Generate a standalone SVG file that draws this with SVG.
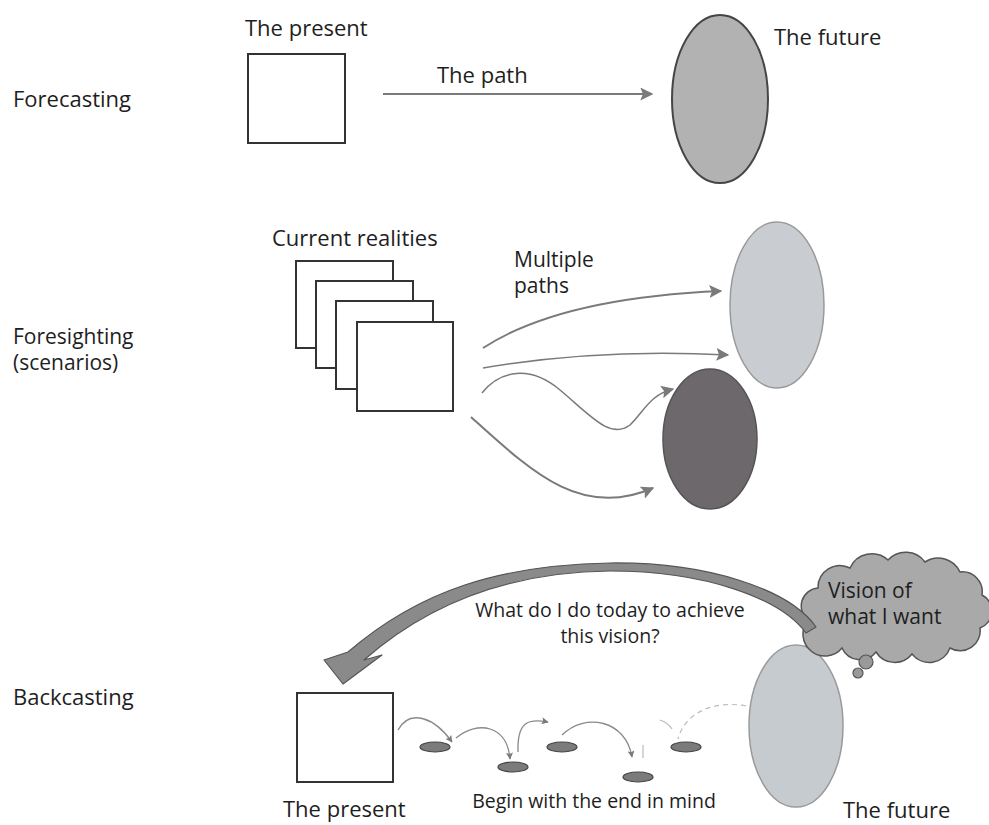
<svg xmlns="http://www.w3.org/2000/svg" width="989" height="825" viewBox="0 0 989 825">
  <defs>
    <style>
      text { font-family: "Open Sans", "Noto Sans", "Liberation Sans", sans-serif; fill: #1e1e1e; }
      .lbl { font-size: 22px; }
      .two { font-size: 21px; }
      .sm { font-size: 19.5px; }
      .cloud { font-size: 21px; }
      .box { fill: #ffffff; stroke: #333333; stroke-width: 2; }
      .conn { fill: none; stroke: #7a7a7a; stroke-width: 2; }
      .thin { fill: none; stroke: #8a8a8a; stroke-width: 1.3; }
      .stone { fill: #7b7b7b; stroke: #454545; stroke-width: 1.2; }
    </style>
    <marker id="ah" viewBox="0 0 10 10" refX="9" refY="5" markerWidth="7" markerHeight="7" markerUnits="userSpaceOnUse" orient="auto">
      <path d="M0,0 L10,5 L0,10 L2,5 Z" fill="#7a7a7a"/>
    </marker>
    <marker id="ahBig" viewBox="0 0 10 10" refX="9" refY="5" markerWidth="13" markerHeight="13" markerUnits="userSpaceOnUse" orient="auto">
      <path d="M0,0 L10,5 L0,10 L2,5 Z" fill="#7a7a7a"/>
    </marker>
  </defs>

  <rect width="989" height="825" fill="#ffffff"/>

  <!-- row labels -->
  <g id="row-labels">
    <text class="lbl" x="13" y="107">Forecasting</text>
    <text class="two" x="13" y="344">Foresighting<tspan x="13" dy="26">(scenarios)</tspan></text>
    <text class="lbl" x="13" y="705">Backcasting</text>
  </g>

  <!-- Forecasting -->
  <g id="fc-present">
    <rect class="box" x="248" y="54" width="97" height="89"/>
    <text class="lbl" x="245" y="36">The present</text>
  </g>
  <g id="fc-future">
    <ellipse cx="720" cy="99" rx="48" ry="84" fill="#b2b2b2" stroke="#454545" stroke-width="2"/>
    <text class="lbl" x="774" y="45">The future</text>
  </g>

  <!-- Foresighting -->
  <g id="fs-realities">
    <rect class="box" x="296" y="261" width="97" height="87"/>
    <rect class="box" x="316" y="281" width="97" height="87"/>
    <rect class="box" x="336" y="301" width="97" height="88"/>
    <rect class="box" x="357" y="322" width="96" height="89"/>
    <text class="lbl" x="272" y="246">Current realities</text>
  </g>
  <g id="fs-future-a">
    <ellipse cx="777" cy="305" rx="47" ry="83" fill="#c9cdd1" stroke="#9a9a9a" stroke-width="1.5"/>
  </g>
  <g id="fs-future-b">
    <ellipse cx="710" cy="439" rx="47" ry="70" fill="#6d686c" stroke="#555555" stroke-width="1.5"/>
  </g>

  <!-- Backcasting -->
  <g id="bc-present">
    <rect class="box" x="297" y="693" width="96" height="89"/>
    <text class="lbl" x="283" y="817">The present</text>
  </g>
  <g id="bc-future">
    <ellipse cx="796" cy="726" rx="47" ry="81" fill="#c6cbd0" stroke="#9a9a9a" stroke-width="1.5"/>
    <text class="lbl" x="843" y="818">The future</text>
  </g>
  <g id="bc-vision">
    <path d="M 808,620 A 18 18 0 0 1 818,588 A 22 22 0 0 1 850,568 A 24 24 0 0 1 888,560 A 24 24 0 0 1 925,562 A 24 24 0 0 1 960,572 A 20 20 0 0 1 982,595 A 18 18 0 0 1 980,628 A 20 20 0 0 1 950,648 A 22 22 0 0 1 912,654 A 22 22 0 0 1 876,652 A 20 20 0 0 1 842,648 A 22 22 0 0 1 808,620 Z" fill="#a9a9a9" stroke="#555555" stroke-width="1.5"/>
    <circle cx="866" cy="662" r="7" fill="#9a9a9a" stroke="#555555" stroke-width="1.2"/>
    <circle cx="858" cy="673" r="5" fill="#9a9a9a" stroke="#555555" stroke-width="1.2"/>
    <text class="cloud" x="828" y="598">Vision of<tspan x="828" dy="26">what I want</tspan></text>
  </g>
  <g id="bc-steps">
    <ellipse class="stone" cx="435" cy="747" rx="15" ry="5"/>
    <ellipse class="stone" cx="513" cy="767" rx="15" ry="5"/>
    <ellipse class="stone" cx="562" cy="747" rx="15" ry="5"/>
    <ellipse class="stone" cx="638" cy="777" rx="15" ry="5"/>
    <ellipse class="stone" cx="686" cy="747" rx="15" ry="5"/>
  </g>

  <!-- connectors -->
  <g id="connectors">
    <path class="conn" d="M 383,94 L 652,94" marker-end="url(#ahBig)"/>

    <path class="conn" d="M 483,348 Q 560,298 721,291" marker-end="url(#ahBig)"/>
    <path class="conn" style="stroke-width:1.5" d="M 483,368 Q 600,348 728,355" marker-end="url(#ahBig)"/>
    <path class="conn" style="stroke-width:1.5" d="M 482,393 C 500,370 530,365 560,390 C 590,415 610,440 630,425 C 645,410 650,395 673,389" marker-end="url(#ahBig)"/>
    <path class="conn" d="M 471,417 C 530,470 580,520 653,488" marker-end="url(#ahBig)"/>

    <path class="thin" d="M 398,730 C 410,708 435,718 452,742" marker-end="url(#ah)"/>
    <path class="thin" d="M 456,738 C 478,720 507,725 510,759" marker-end="url(#ah)"/>
    <path class="thin" d="M 518,752 C 517,722 528,718 548,722" marker-end="url(#ah)"/>
    <path class="thin" d="M 562,735 C 585,712 626,720 632,757" marker-end="url(#ah)"/>
    <path fill="none" stroke="#bbbbbb" stroke-width="1.2" d="M 643,745 L 643,758"/>
    <path fill="none" stroke="#bbbbbb" stroke-width="1.2" stroke-dasharray="5 4" d="M 746,706 C 715,700 685,712 678,739"/>
    <path fill="none" stroke="#bbbbbb" stroke-width="1.2" d="M 660,720 C 666,722 670,726 672,729"/>

    <path d="M 343,684 L 324,660 L 348,652 C 420,590 500,565 610,563 C 710,562 790,590 816,627 L 806,633 C 780,598 705,571 610,571 C 510,572 430,602 364,660 L 382,655 Z" fill="#8a8a8a" stroke="#555555" stroke-width="1.2" stroke-linejoin="round"/>
  </g>

  <!-- free labels -->
  <g id="labels">
    <text class="lbl" x="437" y="83">The path</text>
    <text class="two" x="514" y="267">Multiple<tspan x="514" dy="26">paths</tspan></text>
    <text class="sm" x="610" y="617" text-anchor="middle">What do I do today to achieve<tspan x="610" dy="26">this vision?</tspan></text>
    <text class="sm" x="594" y="808" text-anchor="middle">Begin with the end in mind</text>
  </g>
</svg>
